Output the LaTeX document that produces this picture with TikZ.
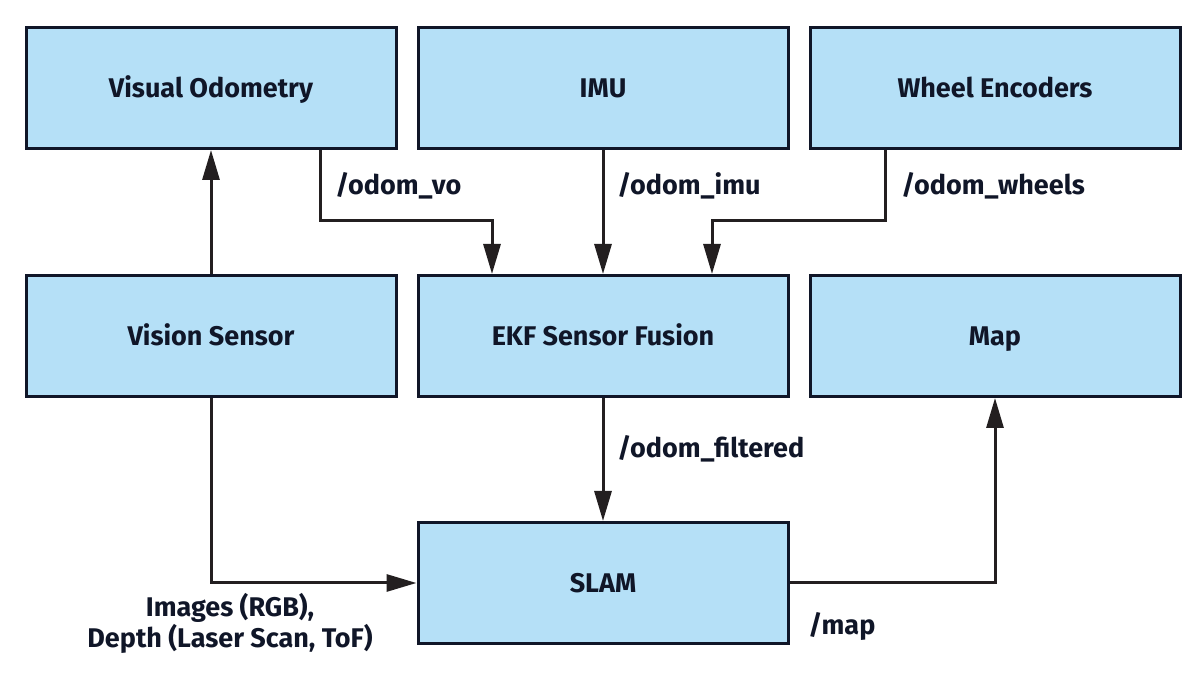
\documentclass[tikz,border=0pt]{standalone}
\usepackage{fontspec}
\setmainfont{Fira Sans}
\usetikzlibrary{arrows.meta}
\definecolor{boxfill}{RGB}{181,224,247}
\definecolor{ink}{RGB}{16,22,40}
\definecolor{wire}{RGB}{35,31,32}
\tikzset{
  blk/.style={draw=ink,line width=1.5pt,fill=boxfill,minimum width=185pt,minimum height=60.5pt,
    inner sep=0pt,text height=9.3pt,text depth=0pt,text=ink,font=\fontsize{13.5}{15}\selectfont\bfseries},
  lbl/.style={inner sep=0pt,text=ink,font=\fontsize{13.5}{13.5}\selectfont\bfseries},
  flow/.style={draw=wire,line width=1.5pt,-{Triangle[length=15pt,width=8.5pt]}},
}
\begin{document}
\begin{tikzpicture}[x=0.5pt,y=-0.5pt]
\useasboundingbox(0,0)rectangle(1200,688);
%
\node[blk](vo)at(211,88){Visual Odometry};
\node[blk](imu)at(603,88){IMU};
\node[blk](wheels)at(995,88){Wheel Encoders};
\node[blk](vision)at(211,336){Vision Sensor};
\node[blk](ekf)at(603,336){EKF Sensor Fusion};
\node[blk](map)at(995,336){Map};
\node[blk](slam)at(603,583){SLAM};
%
\coordinate(vo-tap)at(320,221);
\coordinate(wh-tap)at(885,221);
\coordinate(ekf-l)at(492,0);
\coordinate(ekf-r)at(712,0);
%
\draw[flow](vision)--(vo);
\draw[flow](vo.south-|vo-tap)--(vo-tap)-|(ekf.north-|ekf-l);
\draw[flow](imu)--(ekf);
\draw[flow](wheels.south-|wh-tap)--(wh-tap)-|(ekf.north-|ekf-r);
\draw[flow](ekf)--(slam);
\draw[flow](vision.south)|-(slam.west);
\draw[flow](slam.east)-|(map.south);
%
\node[lbl,anchor=west](l-vo)at(335,186){/odom\_vo};
\node[lbl,anchor=west](l-imu)at(617,186){/odom\_imu};
\node[lbl,anchor=west](l-wh)at(901,186){/odom\_wheels};
\node[lbl,anchor=west](l-filt)at(617,449){/odom\_filtered};
\node[lbl,anchor=west](l-map)at(808,626){/map};
\node[lbl,align=center](l-img)at(230,623){Images (RGB),\\Depth (Laser Scan, ToF)};
\end{tikzpicture}
\end{document}
